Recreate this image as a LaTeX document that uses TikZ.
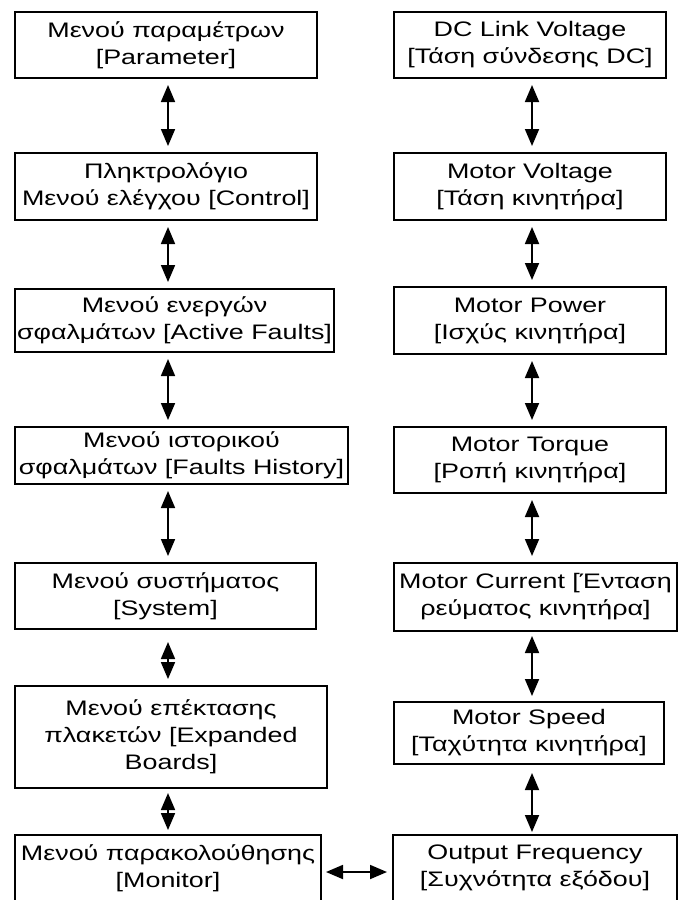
\documentclass[tikz,border=0pt]{standalone}
\usepackage{fontspec}
\setmainfont{Liberation Sans}[FakeStretch=1.28]
\usetikzlibrary{arrows.meta,positioning}

\begin{document}
\begin{tikzpicture}[
    x=1pt, y=-1pt,
    menubox/.style={
      draw, line width=2pt, inner sep=0pt,
      align=center, font=\fontsize{21}{27}\selectfont
    },
    link/.style={
      <->, line width=1.8pt,
      shorten <=6pt, shorten >=6pt
    },
    >={Triangle[length=17pt,width=14pt]}
  ]
    \clip (0,0) rectangle (698,900);

    % Left column (menus)
    \node[menubox, minimum width=302pt, minimum height=66pt] (param)   at (166,45)    {Μενού παραμέτρων\\ {[Parameter]}};
    \node[menubox, minimum width=302pt, minimum height=67pt] (control) at (166,186.5) {Πληκτρολόγιο\\Μενού ελέγχου [Control]};
    \node[menubox, minimum width=319pt, minimum height=63pt] (active)  at (174.5,320.5) {Μενού ενεργών\\σφαλμάτων [Active Faults]};
    \node[menubox, minimum width=333pt, minimum height=57pt] (history) at (181.5,455.5) {Μενού ιστορικού\\σφαλμάτων [Faults History]};
    \node[menubox, minimum width=301pt, minimum height=66pt] (system)  at (165.5,596)  {Μενού συστήματος\\ {[System]}};
    \node[menubox, minimum width=312pt, minimum height=102pt] (boards) at (171,737)    {Μενού επέκτασης\\πλακετών [Expanded\\Boards]};
    \node[menubox, minimum width=306pt, minimum height=66pt] (monitor) at (168,868)    {Μενού παρακολούθησης\\ {[Monitor]}};

    % Right column (monitored values)
    \node[menubox, minimum width=272pt, minimum height=66pt] (dclink)  at (530,45)    {DC Link Voltage\\ {[Τάση σύνδεσης DC]}};
    \node[menubox, minimum width=272pt, minimum height=67pt] (mvolt)   at (530,186.5) {Motor Voltage\\ {[Τάση κινητήρα]}};
    \node[menubox, minimum width=272pt, minimum height=67pt] (mpower)  at (530,320.5) {Motor Power\\ {[Ισχύς κινητήρα]}};
    \node[menubox, minimum width=272pt, minimum height=66pt] (mtorque) at (530,460)   {Motor Torque\\ {[Ροπή κινητήρα]}};
    \node[menubox, minimum width=283pt, minimum height=68pt] (mcurr)   at (535.5,597) {Motor Current [Ένταση\\ρεύματος κινητήρα]};
    \node[menubox, minimum width=270pt, minimum height=62pt] (mspeed)  at (529,733)   {Motor Speed\\ {[Ταχύτητα κινητήρα]}};
    \node[menubox, minimum width=284pt, minimum height=66pt] (outfreq) at (535,868)   {Output Frequency\\ {[Συχνότητα εξόδου]}};

    \coordinate (lx) at (168,0);
    \coordinate (rx) at (532,0);

    % Arrows left
    \draw[link] (param.south -| lx)   -- (control.north -| lx);
    \draw[link] (control.south -| lx) -- (active.north -| lx);
    \draw[link] (active.south -| lx)  -- (history.north -| lx);
    \draw[link] (history.south -| lx) -- (system.north -| lx);
    \draw[link, shorten <=12pt] (system.south -| lx)  -- (boards.north -| lx);
    \draw[link, shorten <=4pt, shorten >=4pt] (boards.south -| lx)  -- (monitor.north -| lx);

    % Arrows right
    \draw[link] (dclink.south -| rx)  -- (mvolt.north -| rx);
    \draw[link] (mvolt.south -| rx)   -- (mpower.north -| rx);
    \draw[link] (mpower.south -| rx)  -- (mtorque.north -| rx);
    \draw[link] (mtorque.south -| rx) -- (mcurr.north -| rx);
    \draw[link, shorten <=4pt, shorten >=5pt] (mcurr.south -| rx)   -- (mspeed.north -| rx);
    \draw[link, shorten <=8pt, shorten >=2pt] (mspeed.south -| rx)  -- (outfreq.north -| rx);

    % Monitor <-> Output Frequency
    \draw[link, shorten <=4pt, shorten >=5pt] ([yshift=-4pt]monitor.east) -- ([yshift=-4pt]monitor.east -| outfreq.west);

  \end{tikzpicture}
\end{document}
